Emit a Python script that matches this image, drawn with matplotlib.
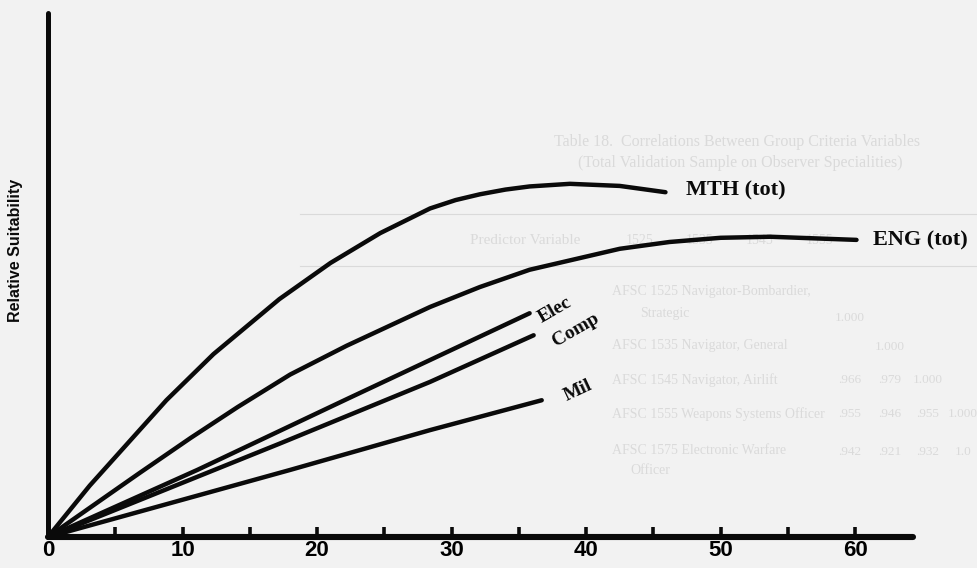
import matplotlib.pyplot as plt

# curve values (x in the axis units, y in % of axis height)
mth_x = [0, 3.1, 8.8, 12.3, 17.2, 21.0, 24.7, 28.4, 30.3, 32.1, 34.0, 35.8, 38.8, 42.5, 45.9]
mth_y = [0, 9.8, 26.1, 34.9, 45.4, 52.3, 58.0, 62.7, 64.3, 65.4, 66.3, 66.9, 67.4, 67.0, 65.8]

eng_x = [0, 6.8, 10.6, 14.1, 18.0, 22.2, 28.4, 32.1, 35.8, 42.5, 46.2, 50.0, 53.7, 60.1]
eng_y = [0, 12.2, 18.9, 24.8, 31.0, 36.5, 43.9, 47.7, 51.0, 55.0, 56.3, 57.1, 57.3, 56.7]

elec_x = [0, 11.1, 22.2, 35.8]
elec_y = [0, 12.8, 26.3, 42.7]

comp_x = [0, 17.2, 28.4, 36.1]
comp_y = [0, 17.8, 29.6, 38.5]

mil_x = [0, 18.0, 28.4, 36.7]
mil_y = [0, 12.8, 20.4, 26.1]

xtick_major = [0, 10, 20, 30, 40, 50, 60]
xtick_minor = [5, 15, 25, 35, 45, 55]

# faint show-through of the table on the next page
table_title = ["Table 18.  Correlations Between Group Criteria Variables",
               "(Total Validation Sample on Observer Specialities)"]
table_head = ["Predictor Variable", "1525", "1535", "1545", "1555"]
table_rows = ["AFSC 1525 Navigator-Bombardier,", "Strategic",
              "AFSC 1535 Navigator, General", "AFSC 1545 Navigator, Airlift",
              "AFSC 1555 Weapons Systems Officer", "AFSC 1575 Electronic Warfare",
              "Officer"]
table_vals = [["1.000"], ["1.000"], [".966", ".979", "1.000"],
              [".955", ".946", ".955", "1.000"], [".942", ".921", ".932", "1.0"]]

W, H = 977, 568
fig = plt.figure(figsize=(W / 100, H / 100), dpi=100, facecolor='#f2f2f2')

faint = '#dadada'
def ftxt(px, py, s, **kw):
    fig.text(px / W, 1 - py / H, s, color=faint, family='Liberation Serif',
             zorder=-1, va='center', **kw)

ftxt(737, 142, table_title[0], fontsize=11.5, ha='center')
ftxt(740, 163, table_title[1], fontsize=11.5, ha='center')
for yy in (214, 266):
    fig.add_artist(plt.Line2D([300 / W, 1], [1 - yy / H] * 2, color=faint, lw=0.8, zorder=-1))
ftxt(470, 240, table_head[0], fontsize=11)
for px, s in zip([640, 700, 760, 820], table_head[1:]):
    ftxt(px, 240, s, fontsize=10, ha='center')
row_pos = [(612, 292), (640, 314), (612, 345), (612, 380), (612, 414), (612, 450), (630, 471)]
for (px, py), s in zip(row_pos, table_rows):
    ftxt(px, py, s, fontsize=10)
val_rows = [(318, [0]), (347, [1]), (380, [0, 1, 2]), (414, [0, 1, 2, 3]), (452, [0, 1, 2, 3])]
val_x = [850, 890, 928, 963]
for (py, cols), vals in zip(val_rows, table_vals):
    for c, s in zip(cols, vals):
        ftxt(val_x[c], py, s, fontsize=9.5, ha='center')

ax = fig.add_axes([48 / W, (H - 537) / H, 865 / W, 524 / H])
ax.set_facecolor('none')
ax.set_xlim(0, 64.3)
ax.set_ylim(0, 100)

for xs, ys in [(mth_x, mth_y), (eng_x, eng_y), (elec_x, elec_y),
               (comp_x, comp_y), (mil_x, mil_y)]:
    ax.plot(xs, ys, color='#0a0a0a', lw=3.2, solid_capstyle='round',
            solid_joinstyle='round', zorder=3, clip_on=False)

ax.spines['top'].set_visible(False)
ax.spines['right'].set_visible(False)
ax.spines['left'].set_linewidth(3.6)
ax.spines['bottom'].set_linewidth(4.4)
for side in ('left', 'bottom'):
    ax.spines[side].set_color('#0a0a0a')
    ax.spines[side].set_capstyle('round')

ax.set_yticks([])
ax.set_xticks(xtick_major)
ax.set_xticks(xtick_minor, minor=True)
ax.set_xticklabels([str(v) for v in xtick_major])
ax.tick_params(axis='x', which='both', direction='in', length=7.5, width=2.6,
               color='#0a0a0a', pad=2)
for lab in ax.get_xticklabels():
    lab.set_fontfamily(['Liberation Sans', 'DejaVu Sans'])
    lab.set_fontweight('bold')
    lab.set_fontsize(16)

lbl = dict(color='#0a0a0a', family=['Liberation Serif', 'DejaVu Serif'],
           fontweight='bold')
ax.text(47.4, 66.2, "MTH (tot)", fontsize=16, ha='left', va='center', **lbl)
ax.text(61.3, 56.6, "ENG (tot)", fontsize=16, ha='left', va='center', **lbl)
ax.text(37.7, 43.3, "Elec", fontsize=14, rotation=30, ha='center', va='center',
        rotation_mode='anchor', **lbl)
ax.text(39.2, 39.5, "Comp", fontsize=14, rotation=30, ha='center', va='center',
        rotation_mode='anchor', **lbl)
ax.text(39.4, 28.0, "Mil", fontsize=14, rotation=25, ha='center', va='center',
        rotation_mode='anchor', **lbl)

fig.text(16 / W, 1 - 250 / H, "Relative Suitability", rotation=90,
         ha='center', va='center', fontsize=11.5, fontweight='bold',
         family=['Liberation Sans', 'DejaVu Sans'], color='#0a0a0a')

plt.savefig('out.png', dpi=100, facecolor=fig.get_facecolor())
